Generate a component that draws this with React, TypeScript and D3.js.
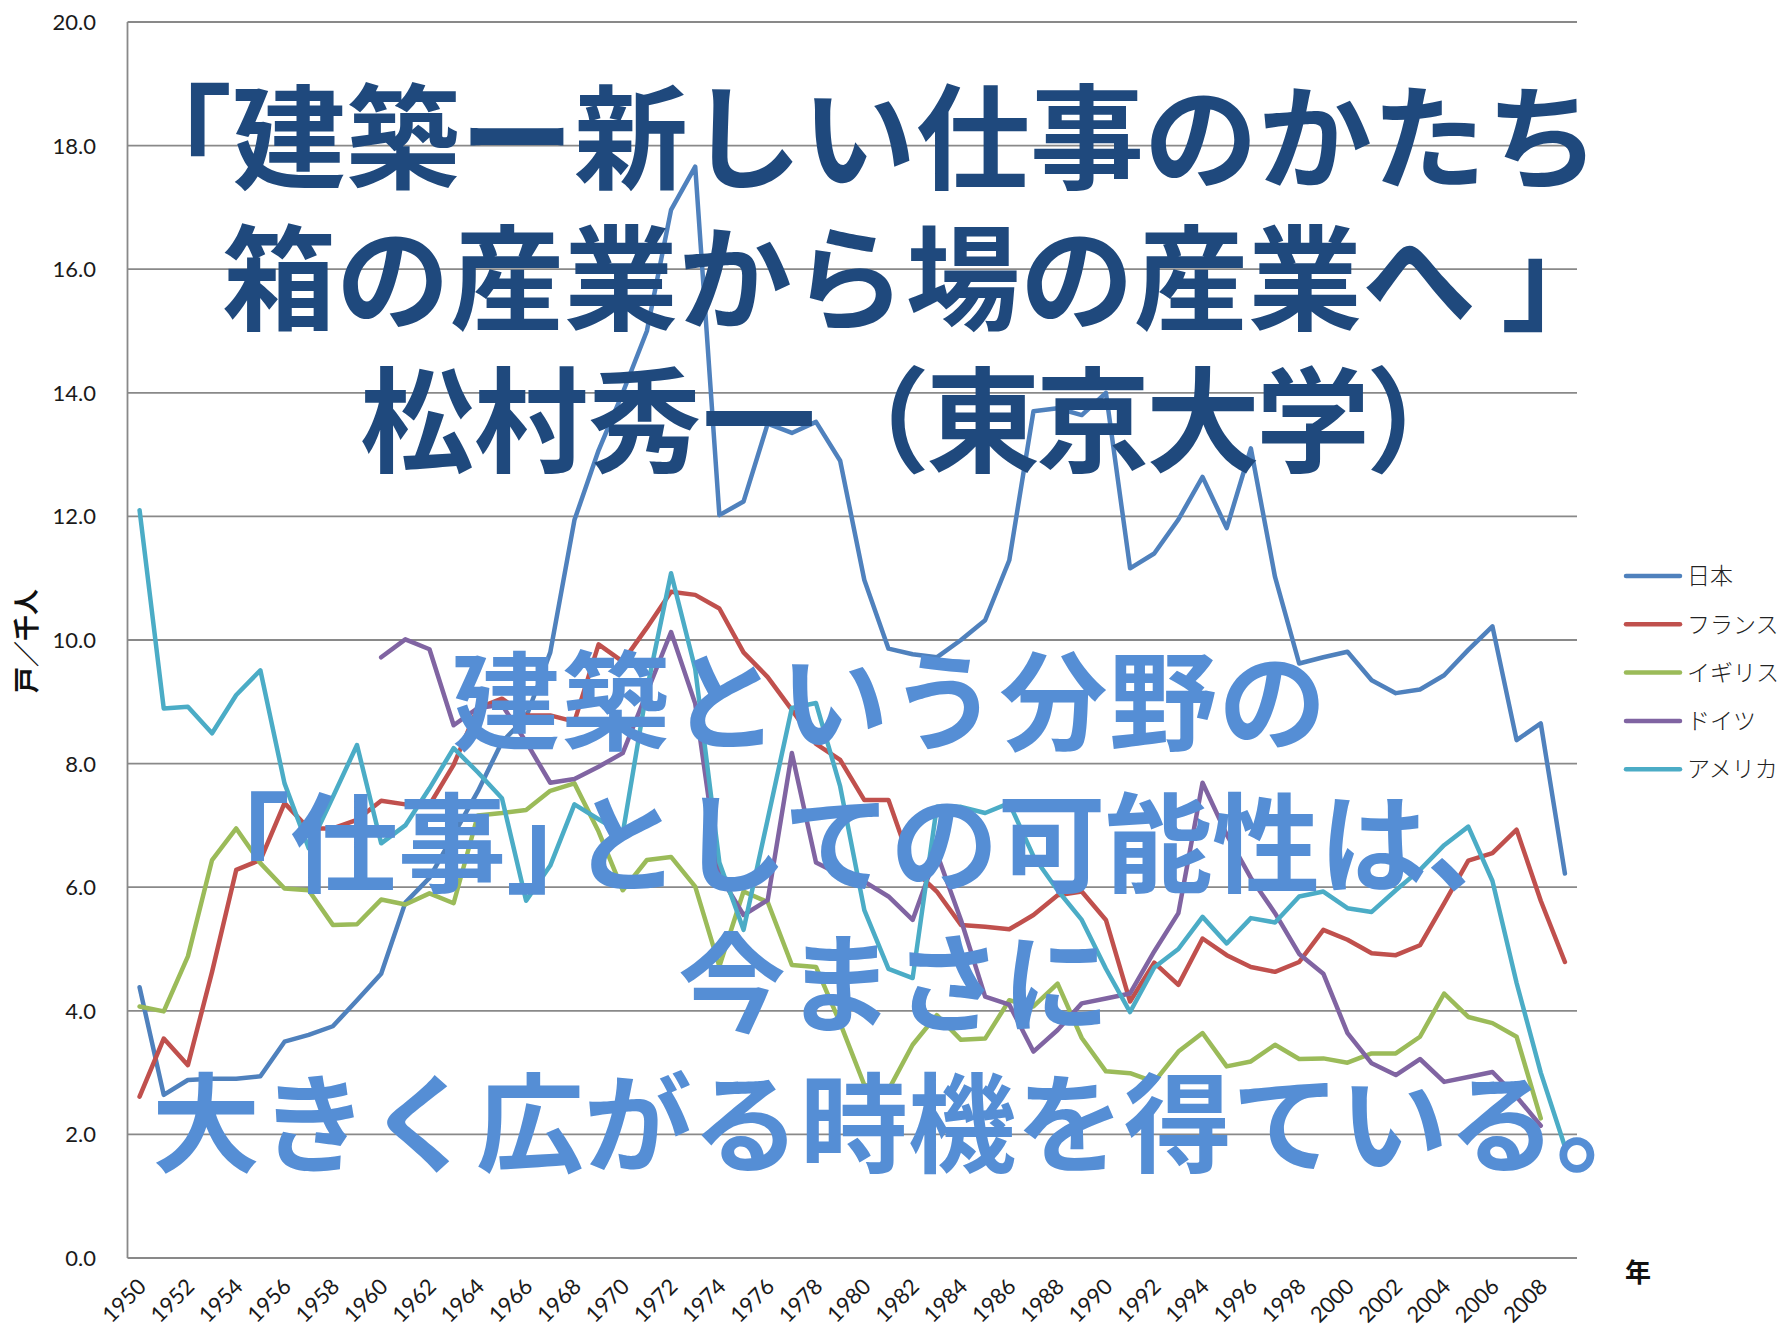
import React from 'react';
import * as d3 from 'd3';

const years = [
  1950, 1951, 1952, 1953, 1954, 1955, 1956, 1957, 1958, 1959,
  1960, 1961, 1962, 1963, 1964, 1965, 1966, 1967, 1968, 1969,
  1970, 1971, 1972, 1973, 1974, 1975, 1976, 1977, 1978, 1979,
  1980, 1981, 1982, 1983, 1984, 1985, 1986, 1987, 1988, 1989,
  1990, 1991, 1992, 1993, 1994, 1995, 1996, 1997, 1998, 1999,
  2000, 2001, 2002, 2003, 2004, 2005, 2006, 2007, 2008, 2009,
];

const japan = [
  4.38, 2.64, 2.88, 2.9, 2.9, 2.94, 3.5, 3.61, 3.75, 4.17,
  4.6, 5.75, 6.15, 6.85, 7.55, 8.35, 8.75, 9.8, 11.94, 13.07,
  14.0, 15.0, 16.96, 17.66, 12.02, 12.24, 13.5, 13.35, 13.53, 12.9,
  10.97, 9.86, 9.77, 9.72, 10.0, 10.32, 11.29, 13.7, 13.75, 13.64,
  14.0, 11.16, 11.4, 11.95, 12.64, 11.81, 13.1, 11.02, 9.62, 9.72,
  9.81, 9.35, 9.14, 9.2, 9.43, 9.84, 10.22, 8.38, 8.65, 6.22,
];

const france = [
  2.61, 3.55, 3.12, 4.63, 6.28, 6.44, 7.36, 6.95, 6.95, 7.09,
  7.4, 7.34, 7.33, 7.98, 8.9, 9.05, 8.78, 8.78, 8.68, 9.93,
  9.65, 10.2, 10.78, 10.73, 10.51, 9.8, 9.4, 8.87, 8.32, 8.06,
  7.41, 7.41, 6.3, 5.93, 5.39, 5.36, 5.32, 5.55, 5.87, 5.93,
  5.47, 4.15, 4.78, 4.42, 5.17, 4.9, 4.71, 4.63, 4.79, 5.31,
  5.15, 4.93, 4.9, 5.06, 5.74, 6.43, 6.55, 6.93, 5.78, 4.79,
];

const uk = [
  4.07, 3.99, 4.88, 6.44, 6.95, 6.39, 5.98, 5.95, 5.39, 5.4,
  5.8, 5.72, 5.9, 5.74, 7.16, 7.2, 7.25, 7.56, 7.68, 6.9,
  5.95, 6.44, 6.49, 6.01, 4.72, 5.93, 5.76, 4.74, 4.71, 3.8,
  2.8, 2.72, 3.45, 3.93, 3.53, 3.55, 4.17, 4.07, 4.44, 3.56,
  3.02, 2.99, 2.85, 3.34, 3.64, 3.1, 3.18, 3.45, 3.22, 3.23,
  3.16, 3.31, 3.31, 3.58, 4.28, 3.9, 3.8, 3.58, 2.26, null,
];

const germany = [
  null, null, null, null, null, null, null, null, null, null,
  9.72, 10.01, 9.85, 8.62, 8.9, 8.95, 8.35, 7.69, 7.75, 7.95,
  8.17, 9.15, 10.13, 8.97, 6.2, 5.55, 5.79, 8.17, 6.4, 6.2,
  6.09, 5.85, 5.47, 6.55, 5.47, 4.23, 4.1, 3.34, 3.69, 4.12,
  4.2, 4.28, 4.96, 5.58, 7.69, 6.85, 6.15, 5.58, 4.92, 4.6,
  3.64, 3.15, 2.96, 3.22, 2.85, 2.93, 3.01, 2.61, 2.14, null,
];

const usa = [
  12.1, 8.89, 8.92, 8.49, 9.11, 9.51, 7.68, 6.63, 7.46, 8.3,
  6.71, 7.0, 7.6, 8.25, 7.86, 7.44, 5.78, 6.35, 7.34, 7.1,
  6.87, 9.2, 11.08, 9.53, 6.4, 5.31, 7.1, 8.9, 8.98, 7.63,
  5.63, 4.68, 4.53, 7.3, 7.3, 7.2, 7.36, 6.5, 5.95, 5.47,
  4.68, 3.98, 4.7, 5.0, 5.52, 5.09, 5.5, 5.43, 5.85, 5.93,
  5.66, 5.6, 5.95, 6.28, 6.68, 6.98, 6.1, 4.45, 3.0, 1.8,
];

const seriesNames = ['日本', 'フランス', 'イギリス', 'ドイツ', 'アメリカ'];
const seriesValues = [japan, france, uk, germany, usa];
const seriesColors = ['#4F81BD', '#C0504D', '#9BBB59', '#8064A2', '#4BACC6'];

const yTicks = [0, 2, 4, 6, 8, 10, 12, 14, 16, 18, 20];
const xTickYears = [
  1950, 1952, 1954, 1956, 1958, 1960, 1962, 1964, 1966, 1968,
  1970, 1972, 1974, 1976, 1978, 1980, 1982, 1984, 1986, 1988,
  1990, 1992, 1994, 1996, 1998, 2000, 2002, 2004, 2006, 2008,
];

const yAxisTitle = '戸／千人';
const xAxisTitle = '年';

// each line split into parts so narrow brackets can be spaced like the original
const titleLines = [
  ['「建築ー新しい仕事のかたち'],
  ['箱の産業から場の産業へ', '」'],
  ['松村秀一', '（東京大学）'],
];
const messageLines = [
  ['建築という分野の'],
  ['「仕事」', 'としての可能性は、'],
  ['今まさに'],
  ['大きく広がる時機を得ている。'],
];

const W = 1777;
const H = 1333;
const PLOT = { left: 127.5, right: 1577, top: 22, bottom: 1258 };

const titlePos = [
  { x: 118, y: 180, dx: [0], ls: [0] },
  { x: 222, y: 321, dx: [0, 25], ls: [0, 0] },
  { x: 360, y: 463, dx: [0, 0], ls: [0, -4] },
];
const messagePos = [
  { x: 452, y: 742, dx: [0], ls: [1.5] },
  { x: 182, y: 884, dx: [0, -42], ls: [0, -0.8] },
  { x: 678, y: 1024, dx: [0], ls: [0] },
  { x: 152, y: 1164, dx: [0], ls: [0] },
];

const LATIN = 'Lato, "Liberation Sans", Arial, sans-serif';
const CJK = '"Noto Sans CJK JP", "Noto Sans CJK SC", sans-serif';

export default function App() {
  const x = d3
    .scaleBand<number>()
    .domain(years)
    .range([PLOT.left, PLOT.right])
    .paddingInner(0)
    .paddingOuter(0);
  const cx = (yr: number) => (x(yr) as number) + x.bandwidth() / 2;
  const y = d3.scaleLinear().domain([0, 20]).range([PLOT.bottom, PLOT.top]);

  const line = d3
    .line<number | null>()
    .defined((d) => d !== null && d !== undefined)
    .x((_d, i) => cx(years[i]))
    .y((d) => y(d as number));

  return (
    <svg
      width={W}
      height={H}
      viewBox={`0 0 ${W} ${H}`}
      style={{ position: 'absolute', left: 0, top: 0, background: '#ffffff' }}
    >
      <rect x={0} y={0} width={W} height={H} fill="#ffffff" />

      {/* gridlines */}
      {yTicks.map((t) => (
        <line
          key={`g${t}`}
          x1={PLOT.left}
          x2={PLOT.right}
          y1={y(t)}
          y2={y(t)}
          stroke="#898989"
          strokeWidth={1.8}
        />
      ))}
      {/* left axis */}
      <line
        x1={PLOT.left}
        x2={PLOT.left}
        y1={PLOT.top}
        y2={PLOT.bottom}
        stroke="#898989"
        strokeWidth={1.8}
      />

      {/* y tick labels */}
      {yTicks.map((t) => (
        <text
          key={`yl${t}`}
          x={96}
          y={y(t)}
          dy="0.36em"
          textAnchor="end"
          fontFamily={LATIN}
          fontSize={22}
          fill="#1a1a1a"
        >
          {t.toFixed(1)}
        </text>
      ))}

      {/* x tick labels */}
      {xTickYears.map((yr) => (
        <text
          key={`xl${yr}`}
          transform={`translate(${cx(yr) + 8},${1288}) rotate(-45)`}
          textAnchor="end"
          fontFamily={LATIN}
          fontSize={22}
          fill="#1a1a1a"
        >
          {yr}
        </text>
      ))}

      {/* axis titles */}
      <text
        transform={`translate(36,641) rotate(-90)`}
        textAnchor="middle"
        fontFamily={CJK}
        fontWeight="bold"
        fontSize={26}
        fill="#111"
      >
        {yAxisTitle}
      </text>
      <text
        x={1638}
        y={1282}
        textAnchor="middle"
        fontFamily={CJK}
        fontWeight="bold"
        fontSize={26}
        fill="#111"
      >
        {xAxisTitle}
      </text>

      {/* series */}
      {seriesValues.map((vals, i) => (
        <path
          key={`s${i}`}
          d={line(vals) || ''}
          fill="none"
          stroke={seriesColors[i]}
          strokeWidth={4.5}
          strokeLinejoin="round"
          strokeLinecap="round"
        />
      ))}

      {/* legend */}
      {seriesNames.map((name, i) => {
        const ly = 576 + i * 48.3;
        return (
          <g key={`lg${i}`}>
            <line
              x1={1626}
              x2={1680}
              y1={ly}
              y2={ly}
              stroke={seriesColors[i]}
              strokeWidth={4.5}
              strokeLinecap="round"
            />
            <text
              x={1687}
              y={ly}
              dy="0.36em"
              fontFamily={CJK}
              fontSize={23}
              fontWeight={300}
              fill="#222"
            >
              {name}
            </text>
          </g>
        );
      })}

      {/* overlay title */}
      {titleLines.map((parts, i) => (
        <text
          key={`t${i}`}
          x={titlePos[i].x}
          y={titlePos[i].y}
          fontFamily={CJK}
          fontWeight="bold"
          fontSize={114}
          fill="#1F497D"
        >
          {parts.map((p, j) => (
            <tspan key={j} dx={titlePos[i].dx[j]} letterSpacing={titlePos[i].ls[j]}>
              {p}
            </tspan>
          ))}
        </text>
      ))}

      {/* overlay message */}
      {messageLines.map((parts, i) => (
        <text
          key={`m${i}`}
          x={messagePos[i].x}
          y={messagePos[i].y}
          fontFamily={CJK}
          fontWeight="bold"
          fontSize={108}
          fill="#558ED5"
        >
          {parts.map((p, j) => (
            <tspan key={j} dx={messagePos[i].dx[j]} letterSpacing={messagePos[i].ls[j]}>
              {p}
            </tspan>
          ))}
        </text>
      ))}
    </svg>
  );
}
